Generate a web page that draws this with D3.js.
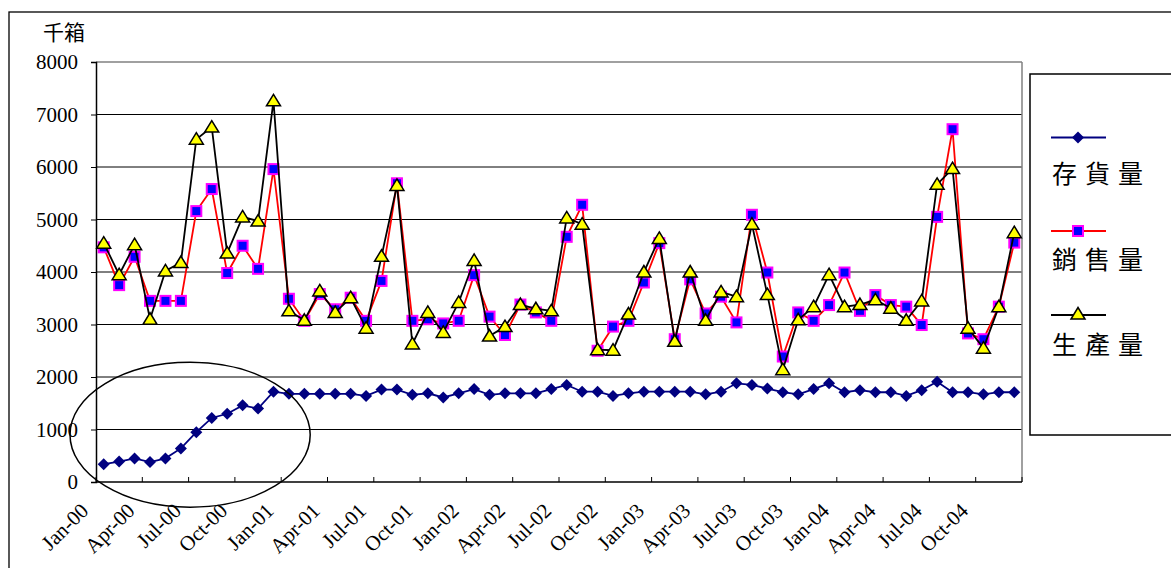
<!DOCTYPE html>
<html>
<head>
<meta charset="utf-8">
<script src="https://cdn.jsdelivr.net/npm/d3@7"></script>
<style>
  html, body { margin: 0; padding: 0; background: #fff; }
  svg { display: block; }
  .serif { font-family: "Liberation Serif", "DejaVu Serif", serif !important; }
  .cjk { font-family: "Noto Sans CJK TC", "Noto Sans CJK SC", sans-serif !important; }
</style>
</head>
<body>
<svg id="chart" width="1171" height="568"></svg>
<script>
// ---- data ----
const categories = [
  "Jan-00","Feb-00","Mar-00","Apr-00","May-00","Jun-00","Jul-00","Aug-00","Sep-00","Oct-00","Nov-00","Dec-00",
  "Jan-01","Feb-01","Mar-01","Apr-01","May-01","Jun-01","Jul-01","Aug-01","Sep-01","Oct-01","Nov-01","Dec-01",
  "Jan-02","Feb-02","Mar-02","Apr-02","May-02","Jun-02","Jul-02","Aug-02","Sep-02","Oct-02","Nov-02","Dec-02",
  "Jan-03","Feb-03","Mar-03","Apr-03","May-03","Jun-03","Jul-03","Aug-03","Sep-03","Oct-03","Nov-03","Dec-03",
  "Jan-04","Feb-04","Mar-04","Apr-04","May-04","Jun-04","Jul-04","Aug-04","Sep-04","Oct-04","Nov-04","Dec-04"
];
const tickLabels = [
  "Jan-00","Apr-00","Jul-00","Oct-00","Jan-01","Apr-01","Jul-01","Oct-01","Jan-02","Apr-02",
  "Jul-02","Oct-02","Jan-03","Apr-03","Jul-03","Oct-03","Jan-04","Apr-04","Jul-04","Oct-04"
];
const yTicks = [0,1000,2000,3000,4000,5000,6000,7000,8000];
const inventory = [340,390,450,380,450,640,950,1220,1300,1460,1400,1720,
  1680,1680,1680,1680,1680,1640,1760,1760,1660,1690,1610,1690,
  1770,1660,1690,1690,1690,1770,1850,1720,1720,1640,1690,1720,
  1720,1720,1720,1670,1720,1880,1850,1780,1710,1670,1770,1880,
  1710,1750,1710,1710,1640,1750,1910,1710,1710,1670,1710,1710];
const sales = [4470,3750,4290,3450,3450,3450,5160,5580,3980,4500,4060,5960,
  3490,3070,3580,3290,3510,3070,3830,5690,3070,3100,3020,3070,
  3940,3150,2800,3380,3230,3070,4670,5280,2500,2960,3070,3800,
  4550,2720,3860,3210,3530,3040,5090,3990,2390,3230,3070,3370,
  3990,3260,3560,3370,3340,2990,5050,6720,2830,2720,3340,4560];
const production = [4550,3950,4520,3100,4020,4180,6530,6760,4360,5050,4970,7260,
  3260,3080,3640,3230,3510,2930,4300,5650,2630,3230,2850,3420,
  4220,2780,2960,3380,3300,3260,5030,4910,2520,2510,3200,4000,
  4640,2680,4000,3080,3620,3530,4910,3570,2140,3090,3340,3950,
  3340,3380,3470,3310,3080,3450,5670,5970,2930,2550,3340,4750];
const seriesNames = ["存貨量","銷售量","生產量"];
const unitLabel = "千箱";

// ---- layout ----
const svg = d3.select("#chart");
const L = 96, R = 1022, T = 62, B = 482;
const x = d3.scaleBand().domain(categories).range([L, R]).paddingInner(0).paddingOuter(0);
const bw = x.bandwidth();
const cx = c => x(c) + bw / 2;
const y = d3.scaleLinear().domain([0, 8000]).range([B, T]);

// outer chart border (only left/top visible)
svg.append("rect").attr("x", 9).attr("y", 12).attr("width", 1300).attr("height", 700)
  .attr("fill", "#fff").attr("stroke", "#000").attr("stroke-width", 1.3);

// gridlines
svg.append("g").selectAll("line").data(yTicks.filter(v => v > 0 && v < 8000)).join("line")
  .attr("x1", L).attr("x2", R).attr("y1", d => y(d)).attr("y2", d => y(d))
  .attr("stroke", "#000").attr("stroke-width", 1);

// plot border top/right (gray)
svg.append("line").attr("x1", L).attr("x2", R).attr("y1", y(8000)).attr("y2", y(8000))
  .attr("stroke", "#808080").attr("stroke-width", 1.5);
svg.append("line").attr("x1", R).attr("x2", R).attr("y1", y(8000)).attr("y2", B)
  .attr("stroke", "#808080").attr("stroke-width", 1.5);

// y axis
const yAxis = svg.append("g").attr("transform", `translate(${L},0)`)
  .call(d3.axisLeft(y).tickValues(yTicks).tickSize(5).tickPadding(13).tickFormat(d3.format("d")));
yAxis.attr("font-family", null).attr("font-size", null);
yAxis.select(".domain").attr("stroke", "#000").attr("stroke-width", 1.5);
yAxis.selectAll(".tick line").attr("stroke", "#000");
yAxis.selectAll("text").attr("class", "serif").style("font-size", "21px").attr("fill", "#000");

// x axis line
svg.append("line").attr("x1", L).attr("x2", R).attr("y1", B).attr("y2", B)
  .attr("stroke", "#000").attr("stroke-width", 1.5);
// x ticks (inward) at every 3rd category boundary
svg.append("g").selectAll("line").data(tickLabels).join("line")
  .attr("x1", d => x(d)).attr("x2", d => x(d)).attr("y1", B).attr("y2", B - 5)
  .attr("stroke", "#000").attr("stroke-width", 1);
svg.append("line").attr("x1", R).attr("x2", R).attr("y1", B).attr("y2", B - 5).attr("stroke", "#000");
// x labels
svg.append("g").selectAll("text").data(tickLabels).join("text")
  .attr("class", "serif")
  .attr("transform", d => `translate(${cx(d) - 14},512) rotate(-45)`)
  .attr("text-anchor", "end")
  .style("font-size", "21px").attr("fill", "#000")
  .text(d => d);

// unit label
svg.append("text").attr("class", "cjk").attr("x", 43).attr("y", 40)
  .style("font-size", "21px").attr("fill", "#000").text(unitLabel);

// ---- series ----
const line = d3.line().x((d, i) => cx(categories[i])).y(d => y(d));
const tri = "M0,-6.5L7,5L-7,5Z";
const dia = "M0,-6L6,0L0,6L-6,0Z";

// inventory
svg.append("path").datum(inventory).attr("d", line).attr("fill", "none")
  .attr("stroke", "#000080").attr("stroke-width", 1.8);
svg.append("g").selectAll("path").data(inventory).join("path")
  .attr("d", dia).attr("transform", (d, i) => `translate(${cx(categories[i])},${y(d)})`)
  .attr("fill", "#000080");

// sales
svg.append("path").datum(sales).attr("d", line).attr("fill", "none")
  .attr("stroke", "#ff0000").attr("stroke-width", 1.8);
svg.append("g").selectAll("rect").data(sales).join("rect")
  .attr("x", (d, i) => cx(categories[i]) - 5).attr("y", d => y(d) - 5)
  .attr("width", 10).attr("height", 10)
  .attr("fill", "#0000ff").attr("stroke", "#ff00ff").attr("stroke-width", 2);

// production
svg.append("path").datum(production).attr("d", line).attr("fill", "none")
  .attr("stroke", "#000").attr("stroke-width", 1.8);
svg.append("g").selectAll("path").data(production).join("path")
  .attr("d", tri).attr("transform", (d, i) => `translate(${cx(categories[i])},${y(d)})`)
  .attr("fill", "#ffff00").attr("stroke", "#000").attr("stroke-width", 1.5)
  .attr("stroke-linejoin", "miter");

// annotation ellipse around 2000 ramp-up
const eLeft = x("Jan-00") - 26, eRight = x("Jan-01") + 29;
svg.append("ellipse")
  .attr("cx", (eLeft + eRight) / 2).attr("cy", y(900))
  .attr("rx", (eRight - eLeft) / 2).attr("ry", y(0) - y(1380))
  .attr("fill", "none").attr("stroke", "#000").attr("stroke-width", 1.5);

// ---- legend ----
svg.append("rect").attr("x", 1030).attr("y", 74).attr("width", 200).attr("height", 361)
  .attr("fill", "#fff").attr("stroke", "#000").attr("stroke-width", 1.5);
const legY = [137.5, 231, 315];
const legTextY = [183, 269, 354];
const lg = svg.append("g");
// 存貨量
lg.append("line").attr("x1", 1051).attr("x2", 1106).attr("y1", legY[0]).attr("y2", legY[0])
  .attr("stroke", "#000080").attr("stroke-width", 1.8);
lg.append("path").attr("d", dia).attr("transform", `translate(1078,${legY[0]})`).attr("fill", "#000080");
// 銷售量
lg.append("line").attr("x1", 1051).attr("x2", 1106).attr("y1", legY[1]).attr("y2", legY[1])
  .attr("stroke", "#ff0000").attr("stroke-width", 1.8);
lg.append("rect").attr("x", 1073).attr("y", legY[1] - 5).attr("width", 10).attr("height", 10)
  .attr("fill", "#0000ff").attr("stroke", "#ff00ff").attr("stroke-width", 2);
// 生產量
lg.append("line").attr("x1", 1051).attr("x2", 1106).attr("y1", legY[2]).attr("y2", legY[2])
  .attr("stroke", "#000").attr("stroke-width", 1.8);
lg.append("path").attr("d", tri).attr("transform", `translate(1078,${legY[2] - 1})`)
  .attr("fill", "#ffff00").attr("stroke", "#000").attr("stroke-width", 1.5);
lg.selectAll("text.leg").data(seriesNames).join("text").attr("class", "leg cjk")
  .attr("x", 1052).attr("y", (d, i) => legTextY[i])
  .style("font-size", "25px").attr("letter-spacing", 8)
  .attr("fill", "#000").text(d => d);
</script>
</body>
</html>
